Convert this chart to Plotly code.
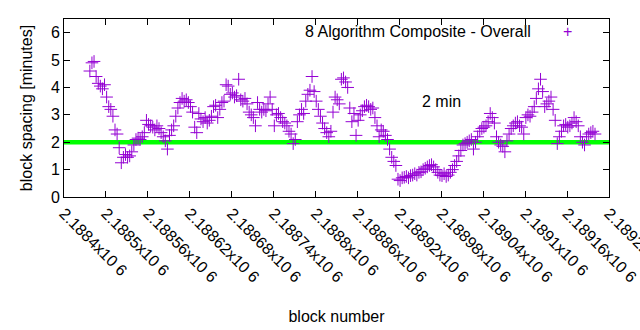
import plotly.graph_objects as go

# ---- data ----
start_block = 2188477
block_step = 3
spacing_minutes = [
    4.6, 4.9, 4.95, 4.4, 4.15, 4.05, 3.95, 4.1, 3.65, 3.3,
    3.2, 2.95, 2.45, 2.3, 1.8, 1.25, 1.45, 1.55, 1.45, 1.5,
    1.65, 1.9, 2.1, 2.15, 2.1, 2.2, 2.35, 2.8, 2.65, 2.6,
    2.55, 2.45, 2.6, 2.5, 2.35, 2.2, 2.05, 1.75, 2.25, 2.45,
    2.6, 2.95, 3.25, 3.45, 3.6, 3.5, 3.55, 3.45, 3.3, 3.1,
    2.55, 2.35, 3.05, 2.85, 2.75, 2.9, 2.7, 2.8, 2.95, 3.3,
    3.35, 2.9, 3.2, 3.45, 3.5, 4.1, 4.05, 3.75, 3.8, 3.65,
    3.7, 4.3, 3.55, 3.5, 3.6, 3.4, 3.1, 3.0, 2.9, 2.6,
    3.45, 3.2, 3.1, 3.2, 3.15, 3.4, 3.65, 3.2, 2.6, 3.0,
    3.05, 2.9, 2.75, 2.7, 2.6, 2.4, 2.3, 1.95, 2.1, 2.75,
    3.0, 3.2, 3.05, 3.5, 3.75, 3.9, 4.4, 3.85, 3.5, 3.2,
    2.95, 2.7, 2.5, 2.35, 2.2, 2.4, 3.1, 3.65, 3.55, 3.4,
    4.3, 4.35, 4.2, 4.0, 3.25, 2.75, 3.05, 2.25, 2.8, 3.0,
    3.15, 3.3, 3.35, 3.3, 3.2, 3.25, 2.9, 2.6, 2.2, 2.45,
    2.4, 2.25, 2.1, 1.75, 1.45, 1.3, 1.15, 0.65, 0.6, 0.7,
    0.72, 0.75, 0.7, 0.78, 0.8, 0.85, 0.8, 0.9, 0.92, 1.0,
    1.05, 1.1, 1.15, 1.18, 1.1, 1.0, 0.9, 0.8, 0.78, 0.85,
    0.75, 0.8, 0.9, 1.0, 1.15, 1.3, 1.5, 1.7, 1.9, 1.95,
    2.0, 2.05, 2.1, 1.75, 2.0, 2.2, 2.4, 2.5, 2.55, 2.6,
    2.75, 3.05, 2.9, 2.7, 2.2, 2.0, 1.9, 1.85, 1.65, 2.05,
    2.3, 2.5, 2.6, 2.7, 2.75, 2.6, 2.55, 2.3, 2.9, 3.0,
    2.95, 3.1, 3.3, 3.6, 3.95, 4.3, 3.85, 3.3, 3.4, 3.5,
    3.65, 3.2, 2.8, 1.95, 2.2, 2.4, 2.6, 2.65, 2.55, 2.6,
    2.7, 2.9, 2.75, 2.6, 2.2, 2.0, 1.9, 2.2, 2.3, 2.35,
    2.4, 2.3,
]
blocks = [start_block + block_step * i for i in range(len(spacing_minutes))]

reference_minutes = 2
x_min, x_max = 2188440, 2189220
tick_vals = [2188440, 2188500, 2188560, 2188620, 2188680, 2188740, 2188800,
             2188860, 2188920, 2188980, 2189040, 2189100, 2189160, 2189220]
tick_text = ["2.1884x10 6", "2.1885x10 6", "2.18856x10 6", "2.18862x10 6",
             "2.18868x10 6", "2.18874x10 6", "2.1888x10 6", "2.18886x10 6",
             "2.18892x10 6", "2.18898x10 6", "2.18904x10 6", "2.1891x10 6",
             "2.18916x10 6", "2.18922x10 6"]
series_name = "8 Algorithm Composite - Overall"

FONT = "Liberation Sans, Arial, sans-serif"
FS = 16
PURPLE = "#9400d3"

L, R, T, B = 64, 31, 19, 133
W, H = 640, 330
pw = W - L - R
ph = H - T - B


def px_to_paper(px, py):
    return (px - L) / pw, (H - B - py) / ph


fig = go.Figure()
fig.add_trace(go.Scatter(
    x=[x_min, x_max], y=[reference_minutes, reference_minutes],
    mode="lines", line=dict(color="#00ff00", width=4.5),
    showlegend=False, hoverinfo="skip",
))
fig.add_trace(go.Scatter(
    x=blocks, y=spacing_minutes, mode="markers", name=series_name,
    marker=dict(symbol="cross-thin", size=9, line=dict(color=PURPLE, width=1), color=PURPLE),
    showlegend=False,
))

ax, ay = px_to_paper(533, 32)
fig.add_annotation(x=ax, y=ay, xref="paper", yref="paper", text=series_name,
                   showarrow=False, xanchor="right", yanchor="middle",
                   font=dict(family=FONT, size=FS, color="#000"))
mx, my = px_to_paper(567, 32)
fig.add_annotation(x=mx, y=my, xref="paper", yref="paper", text="+",
                   showarrow=False, xanchor="center", yanchor="middle",
                   font=dict(family=FONT, size=FS, color=PURPLE))
fig.add_annotation(x=2188980, y=3.5, xref="x", yref="y", text="2 min",
                   showarrow=False, xanchor="center", yanchor="middle",
                   font=dict(family=FONT, size=FS, color="#000"))

fig.update_layout(
    width=W, height=H,
    margin=dict(l=L, r=R, t=T, b=B),
    paper_bgcolor="white", plot_bgcolor="white",
    font=dict(family=FONT, size=FS, color="#000"),
    showlegend=False,
)

fig.update_xaxes(
    range=[x_min, x_max + 0.01], tickvals=tick_vals, ticktext=tick_text,
    tickangle=45, ticks="inside", ticklen=6, tickcolor="#000",
    showline=True, linecolor="#000", linewidth=1, mirror="allticks",
    showgrid=False, zeroline=False, ticklabeloverflow="allow", automargin=False,
    title=dict(text="block number", standoff=26, font=dict(family=FONT, size=FS)),
    tickfont=dict(family=FONT, size=FS),
)
fig.update_yaxes(
    range=[0, 6.5], tickvals=[0, 1, 2, 3, 4, 5, 6],
    ticks="inside", ticklen=6, tickcolor="#000",
    showline=True, linecolor="#000", linewidth=1, mirror="allticks",
    showgrid=False, zeroline=False, automargin=False,
    title=dict(text="block spacing [minutes]", standoff=14, font=dict(family=FONT, size=FS)),
    tickfont=dict(family=FONT, size=FS),
)

fig.write_html("out.html")
